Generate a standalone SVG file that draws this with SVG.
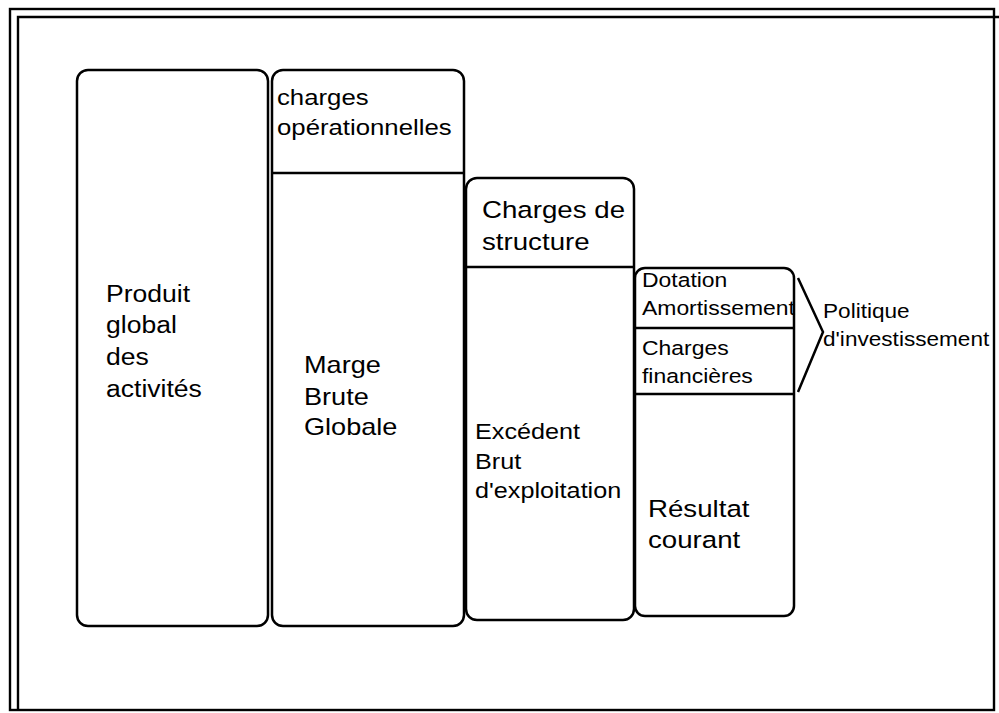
<svg xmlns="http://www.w3.org/2000/svg" width="999" height="713" viewBox="0 0 999 713">
<style>
.box{fill:#fff;stroke:#000;stroke-width:2.5}
.ln{fill:none;stroke:#000;stroke-width:2.5}
.fr{fill:none;stroke:#000;stroke-width:2.4}
text{font-family:"Liberation Sans",Arial,sans-serif;fill:#000}
</style>
<rect width="999" height="713" fill="#fff"/>
<g id="frame">
<rect class="fr" x="10" y="9" width="984" height="701"/>
<polyline class="fr" points="18,711 18,17 999,17"/>
</g>
<g id="produit">
<rect class="box" x="77" y="70" width="191" height="556" rx="11"/>
<g transform="translate(106,0) scale(1.13,1)"><text font-size="23.5"><tspan x="0" y="302">Produit</tspan><tspan x="0" y="333">global</tspan><tspan x="0" y="365">des</tspan><tspan x="0" y="397">activités</tspan></text></g>
</g>
<g id="marge">
<rect class="box" x="272" y="70" width="192" height="556" rx="11"/>
<line class="ln" x1="272" y1="173" x2="464" y2="173"/>
<g transform="translate(277,0) scale(1.13,1)"><text font-size="22.8"><tspan x="0" y="105">charges</tspan><tspan x="0" y="135">opérationnelles</tspan></text></g>
<g transform="translate(304,0) scale(1.13,1)"><text font-size="24"><tspan x="0" y="373">Marge</tspan><tspan x="0" y="405">Brute</tspan><tspan x="0" y="435">Globale</tspan></text></g>
</g>
<g id="ebe">
<rect class="box" x="466" y="178" width="168" height="442" rx="11"/>
<line class="ln" x1="466" y1="267" x2="634" y2="267"/>
<g transform="translate(482,0) scale(1.13,1)"><text font-size="24.5"><tspan x="0" y="218">Charges de</tspan><tspan x="0" y="250">structure</tspan></text></g>
<g transform="translate(475,0) scale(1.13,1)"><text font-size="22.3"><tspan x="0" y="439">Excédent</tspan><tspan x="0" y="469">Brut</tspan><tspan x="0" y="498">d'exploitation</tspan></text></g>
</g>
<g id="resultat">
<rect class="box" x="635" y="268" width="159" height="348" rx="10"/>
<line class="ln" x1="635" y1="328" x2="794" y2="328"/>
<line class="ln" x1="635" y1="394" x2="794" y2="394"/>
<g transform="translate(642,0) scale(1.13,1)"><text font-size="20.3"><tspan x="0" y="287">Dotation</tspan><tspan x="0" y="315">Amortissement</tspan><tspan x="0" y="355">Charges</tspan><tspan x="0" y="383">financières</tspan></text></g>
<g transform="translate(648,0) scale(1.13,1)"><text font-size="24.5"><tspan x="0" y="517">Résultat</tspan><tspan x="0" y="548">courant</tspan></text></g>
</g>
<g id="connectors">
<polyline class="ln" points="798,278 823,332 798,392"/>
</g>
<g id="politique">
<g transform="translate(823,0) scale(1.13,1)"><text font-size="20"><tspan x="0" y="318">Politique</tspan><tspan x="0" y="346">d'investissement</tspan></text></g>
</g>
</svg>
